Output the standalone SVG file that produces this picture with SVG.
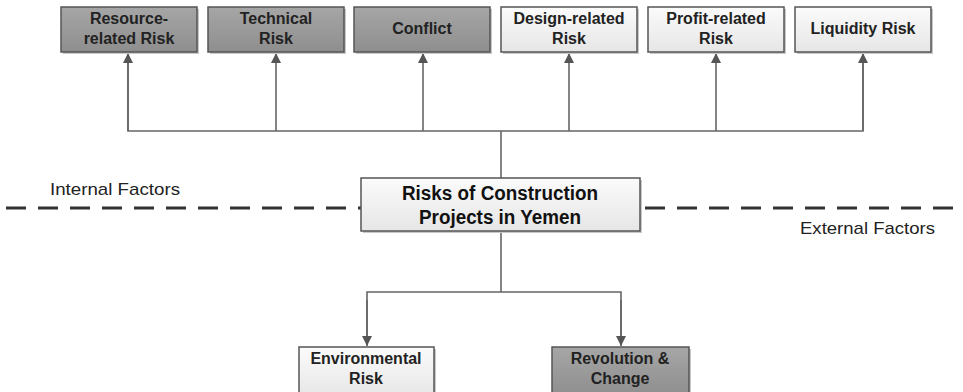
<svg xmlns="http://www.w3.org/2000/svg" width="963" height="392" viewBox="0 0 963 392">
<defs>
<linearGradient id="gDark" x1="0" y1="0" x2="0" y2="1"><stop offset="0" stop-color="#a6a6a6"/><stop offset="1" stop-color="#8e8e8e"/></linearGradient>
<linearGradient id="gLight" x1="0" y1="0" x2="0" y2="1"><stop offset="0" stop-color="#fbfbfb"/><stop offset="1" stop-color="#e6e6e6"/></linearGradient>
<marker id="arr" viewBox="0 0 10 10" refX="10" refY="5" markerWidth="10" markerHeight="10" markerUnits="userSpaceOnUse" orient="auto"><path d="M0,0 L10,5 L0,10 Z" fill="#555"/></marker>
</defs>
<style>
.dark{fill:url(#gDark);stroke:#555;stroke-width:1.5}
.light{fill:url(#gLight);stroke:#555;stroke-width:1.5}
.shadow{fill:#c8c8c8}
.t{font-family:"Liberation Sans",Arial,sans-serif;font-weight:bold;font-size:16px;fill:#222;text-anchor:middle}
.tc{font-family:"Liberation Sans",Arial,sans-serif;font-weight:bold;font-size:20px;fill:#111;text-anchor:middle}
.lab{font-family:"Liberation Sans",Arial,sans-serif;font-size:17px;fill:#222}
.c{fill:none;stroke:#666;stroke-width:1.6}
.dash{fill:none;stroke:#333;stroke-width:3;stroke-dasharray:20 12}
</style>
<rect width="963" height="392" fill="#fff"/>
<g id="divider">
<line class="dash" x1="6" y1="208" x2="361" y2="208"/>
<line class="dash" x1="645" y1="208" x2="963" y2="208"/>
</g>
<text class="lab" x="50" y="195" textLength="130" lengthAdjust="spacingAndGlyphs">Internal Factors</text>
<text class="lab" x="800" y="234" textLength="135" lengthAdjust="spacingAndGlyphs">External Factors</text>
<g id="connectors">
<line class="c" x1="501" y1="178" x2="501" y2="131"/>
<polyline class="c" points="128,63 128,131 863,131 863,63"/>
<line class="c" x1="128" y1="131" x2="128" y2="53" marker-end="url(#arr)"/>
<line class="c" x1="276" y1="131" x2="276" y2="53" marker-end="url(#arr)"/>
<line class="c" x1="423" y1="131" x2="423" y2="53" marker-end="url(#arr)"/>
<line class="c" x1="569" y1="131" x2="569" y2="53" marker-end="url(#arr)"/>
<line class="c" x1="716" y1="131" x2="716" y2="53" marker-end="url(#arr)"/>
<line class="c" x1="863" y1="131" x2="863" y2="53" marker-end="url(#arr)"/>
<line class="c" x1="501" y1="231" x2="501" y2="292"/>
<polyline class="c" points="367,345 367,292 621,292 621,345"/>
<line class="c" x1="367" y1="300" x2="367" y2="346" marker-end="url(#arr)"/>
<line class="c" x1="621" y1="300" x2="621" y2="346" marker-end="url(#arr)"/>
</g>
<g id="n1"><rect class="shadow" x="63" y="9" width="136" height="45"/><rect class="dark" x="61" y="7" width="136" height="45"/><text class="t" x="129" y="24">Resource-</text><text class="t" x="129" y="44">related Risk</text></g>
<g id="n2"><rect class="shadow" x="210" y="9" width="136" height="45"/><rect class="dark" x="208" y="7" width="136" height="45"/><text class="t" x="276" y="24">Technical</text><text class="t" x="276" y="44">Risk</text></g>
<g id="n3"><rect class="shadow" x="356" y="9" width="136" height="45"/><rect class="dark" x="354" y="7" width="136" height="45"/><text class="t" x="422" y="34">Conflict</text></g>
<g id="n4"><rect class="shadow" x="503" y="9" width="136" height="45"/><rect class="light" x="501" y="7" width="136" height="45"/><text class="t" x="569" y="24">Design-related</text><text class="t" x="569" y="44">Risk</text></g>
<g id="n5"><rect class="shadow" x="650" y="9" width="136" height="45"/><rect class="light" x="648" y="7" width="136" height="45"/><text class="t" x="716" y="24">Profit-related</text><text class="t" x="716" y="44">Risk</text></g>
<g id="n6"><rect class="shadow" x="797" y="9" width="136" height="45"/><rect class="light" x="795" y="7" width="136" height="45"/><text class="t" x="863" y="34">Liquidity Risk</text></g>
<g id="center"><rect class="shadow" x="363" y="180" width="279" height="53"/><rect class="light" x="361" y="178" width="279" height="53"/><text class="tc" x="500" y="200" textLength="196" lengthAdjust="spacingAndGlyphs">Risks of Construction</text><text class="tc" x="500" y="224" textLength="162" lengthAdjust="spacingAndGlyphs">Projects in Yemen</text></g>
<g id="n7"><rect class="shadow" x="301" y="349" width="135" height="50"/><rect class="light" x="299" y="347" width="135" height="50"/><text class="t" x="366" y="364">Environmental</text><text class="t" x="366" y="384">Risk</text></g>
<g id="n8"><rect class="shadow" x="554" y="349" width="137" height="50"/><rect class="dark" x="552" y="347" width="137" height="50"/><text class="t" x="620" y="364">Revolution &amp;</text><text class="t" x="620" y="384">Change</text></g>
</svg>
